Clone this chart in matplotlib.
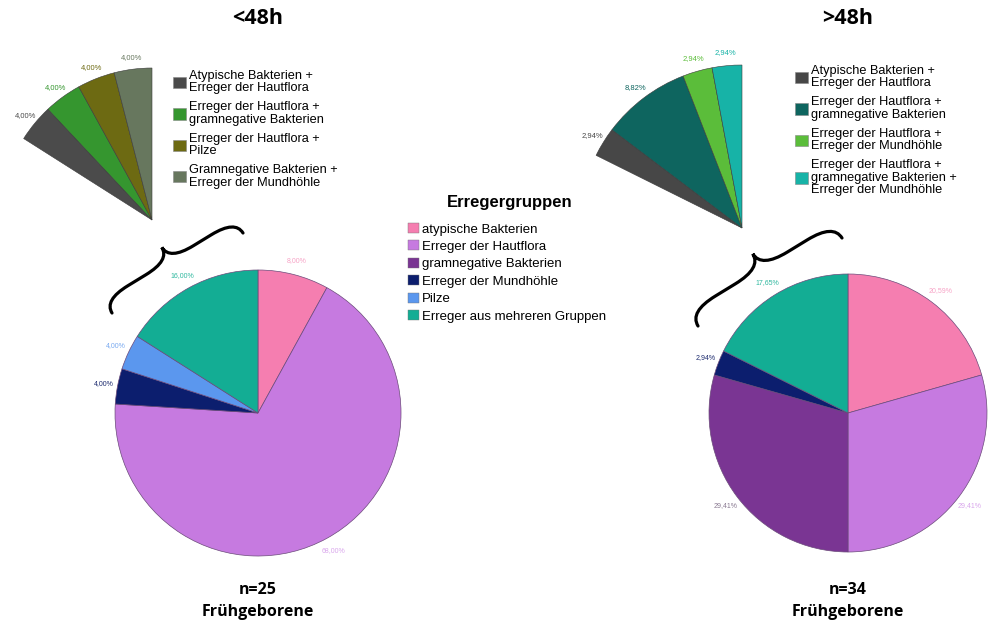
import matplotlib.pyplot as plt
import numpy as np
from matplotlib.patches import Patch, PathPatch
from matplotlib.path import Path

# Erregergruppen (Hauptkreise)
gruppen = ['atypische Bakterien', 'Erreger der Hautflora', 'gramnegative Bakterien',
           'Erreger der Mundhöhle', 'Pilze', 'Erreger aus mehreren Gruppen']
gruppen_farben = ['#f57eb0', '#c67ae0', '#7a3593', '#0c1e6e', '#5b97ee', '#13ad94']
label_farben = ['#f7a3c6', '#d9a6ec', '#8a7a92', '#1c2a6e', '#7aaaf0', '#2fb89f']
n_lt48 = [2, 17, 0, 1, 1, 4]     # n=25
n_gt48 = [7, 10, 10, 1, 0, 6]    # n=34

# Aufschlüsselung "mehrere Gruppen"
misch_lt48_namen = ['Atypische Bakterien +\nErreger der Hautflora',
                    'Erreger der Hautflora +\ngramnegative Bakterien',
                    'Erreger der Hautflora +\nPilze',
                    'Gramnegative Bakterien +\nErreger der Mundhöhle']
misch_lt48 = [1, 1, 1, 1]
misch_lt48_farben = ['#4b4b4b', '#35962f', '#6d6a12', '#67775e']

misch_gt48_namen = ['Atypische Bakterien +\nErreger der Hautflora',
                    'Erreger der Hautflora +\ngramnegative Bakterien',
                    'Erreger der Hautflora +\nErreger der Mundhöhle',
                    'Erreger der Hautflora +\ngramnegative Bakterien +\nErreger der Mundhöhle']
misch_gt48 = [1, 3, 1, 1]
misch_gt48_farben = ['#474747', '#0e655f', '#5bbd3a', '#17b3a7']

W, H = 991, 625
fig = plt.figure(figsize=(W / 100, H / 100), dpi=100)
ax = fig.add_axes([0, 0, 1, 1])

fmt = lambda p: f'{p:.2f}%'.replace('.', ',')


def hauptkreis(werte, mitte, radius):
    idx = [i for i, v in enumerate(werte) if v > 0]
    vals = [werte[i] for i in idx]
    wedges, _, auto = ax.pie(vals, colors=[gruppen_farben[i] for i in idx],
                             startangle=90, counterclock=False, center=mitte,
                             radius=radius, autopct=fmt, pctdistance=1.1, frame=True,
                             wedgeprops=dict(edgecolor='#6b4a7a', linewidth=0.5))
    for t, i in zip(auto, idx):
        t.set_color(label_farben[i])
        t.set_fontsize(5)
        t.set_family('Liberation Sans')
    return wedges


def faecher(werte, gesamt, farben, mitte, radius):
    rest = gesamt - sum(werte)
    start = 90 + 360 * sum(werte) / gesamt
    wedges, _, auto = ax.pie(list(werte) + [rest], colors=list(farben) + ['none'],
                             startangle=start, counterclock=False, center=mitte,
                             radius=radius, autopct=fmt, pctdistance=1.08, frame=True,
                             wedgeprops=dict(edgecolor='#3a3a3a', linewidth=0.4))
    wedges[-1].set_edgecolor('none')
    auto[-1].set_visible(False)
    for t, c in zip(auto[:-1], farben):
        t.set_color(c)
        t.set_fontsize(5.5)
        t.set_family('Liberation Sans')
    return wedges[:-1]


def klammer(p0, p1, tiefe, lw=2.3):
    p0, p1 = np.array(p0, float), np.array(p1, float)
    L = np.linalg.norm(p1 - p0)
    t = (p1 - p0) / L
    n = np.array([-t[1], t[0]])
    w = 0.18 * L
    loc = [(0, 0), (0, tiefe / 2), (w, tiefe / 2), (L / 2 - w, tiefe / 2),
           (L / 2, tiefe / 2), (L / 2, tiefe), (L / 2, tiefe / 2), (L / 2 + w, tiefe / 2),
           (L - w, tiefe / 2), (L, tiefe / 2), (L, 0)]
    pts = [p0 + u * t + v * n for u, v in loc]
    codes = [Path.MOVETO, Path.CURVE3, Path.CURVE3, Path.LINETO, Path.CURVE3, Path.CURVE3,
             Path.CURVE3, Path.CURVE3, Path.LINETO, Path.CURVE3, Path.CURVE3]
    ax.add_patch(PathPatch(Path(pts, codes), fill=False, lw=lw, color='black',
                           capstyle='round'))


# Koordinaten in Pixeln, y von unten
hauptkreis(n_lt48, (258, H - 413), 143)
hauptkreis(n_gt48, (848, H - 413), 139)
f1 = faecher(misch_lt48, sum(n_lt48), misch_lt48_farben, (152, H - 220), 152)
f2 = faecher(misch_gt48, sum(n_gt48), misch_gt48_farben, (742, H - 228), 163)

klammer((112, H - 313), (243, H - 233), 30)
klammer((698, H - 326), (842, H - 238), 33)

ax.set_xlim(0, W)
ax.set_ylim(0, H)
ax.set_aspect('equal')
ax.axis('off')

titel = dict(family='Open Sans', weight='bold', ha='center', va='center')
fig.text(258 / W, 1 - 18 / H, '<48h', fontsize=15.5, **titel)
fig.text(848 / W, 1 - 18 / H, '>48h', fontsize=15.5, **titel)
fig.text(258 / W, 1 - 590 / H, f'n={sum(n_lt48)}', fontsize=11.5, **titel)
fig.text(258 / W, 1 - 612 / H, 'Frühgeborene', fontsize=11.5, **titel)
fig.text(848 / W, 1 - 590 / H, f'n={sum(n_gt48)}', fontsize=11.5, **titel)
fig.text(848 / W, 1 - 612 / H, 'Frühgeborene', fontsize=11.5, **titel)

leg_opts = dict(loc='upper left', frameon=False, borderpad=0, borderaxespad=0,
                handletextpad=0.25)
fan_font = {'family': 'Liberation Sans', 'size': 9.2}

for handles, namen, pos in [(f1, misch_lt48_namen, (173, 70)),
                            (f2, misch_gt48_namen, (795, 65))]:
    lg = fig.legend(handles, namen, bbox_to_anchor=(pos[0] / W, 1 - pos[1] / H),
                    prop=fan_font, labelspacing=0.55, handlelength=1.0,
                    handleheight=1.0, **leg_opts)
    for t in lg.get_texts():
        t.set_linespacing(1.05)
    for h in lg.legend_handles:
        h.set_edgecolor('#888888')

fig.text(510 / W, 1 - 203 / H, 'Erregergruppen', family='Liberation Sans',
         weight='bold', fontsize=12, ha='center', va='center')
handles = [Patch(facecolor=c, edgecolor='#777777', linewidth=0.3) for c in gruppen_farben]
fig.legend(handles, gruppen, bbox_to_anchor=(408 / W, 1 - 223 / H),
           labelspacing=0.36, handlelength=0.8, handleheight=0.8,
           prop={'family': 'Liberation Sans', 'size': 9.5}, **leg_opts)

fig.savefig('out.png', dpi=100)
